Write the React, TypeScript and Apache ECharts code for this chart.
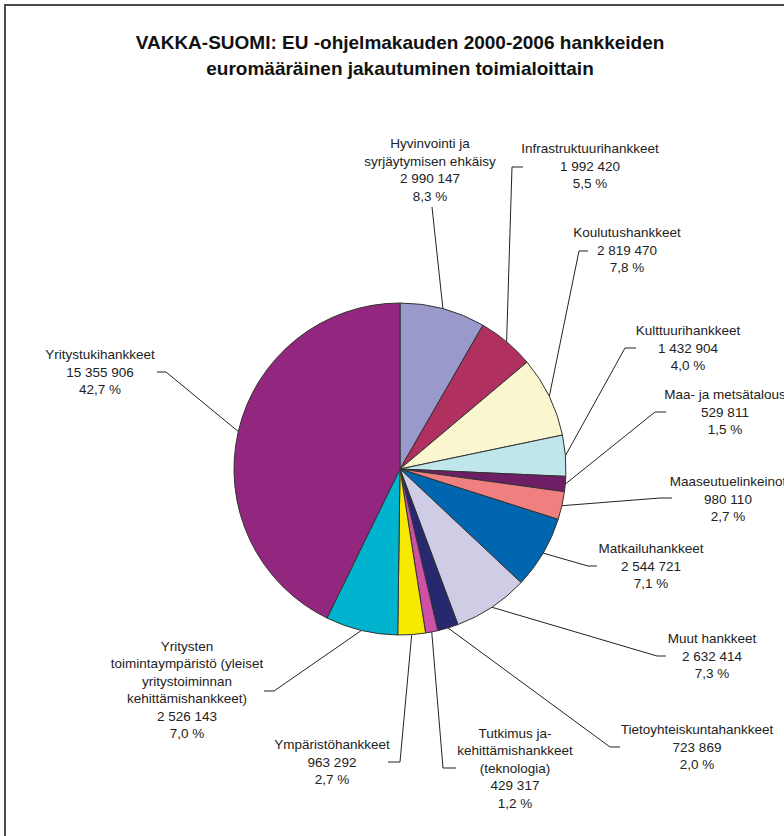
import React, { useEffect, useRef } from "react";
import * as echarts from "echarts";

// ---- data ----
const CATEGORIES: string[] = [
  "Hyvinvointi ja\nsyrjäytymisen ehkäisy",
  "Infrastruktuurihankkeet",
  "Koulutushankkeet",
  "Kulttuurihankkeet",
  "Maa- ja metsätalous",
  "Maaseutuelinkeinot",
  "Matkailuhankkeet",
  "Muut hankkeet",
  "Tietoyhteiskuntahankkeet",
  "Tutkimus ja-\nkehittämishankkeet\n(teknologia)",
  "Ympäristöhankkeet",
  "Yritysten\ntoimintaympäristö (yleiset\nyritystoiminnan\nkehittämishankkeet)",
  "Yritystukihankkeet",
];

const VALUES: number[] = [
  2990147, 1992420, 2819470, 1432904, 529811, 980110, 2544721, 2632414, 723869,
  429317, 963292, 2526143, 15355906,
];

const TITLE_LINES: string[] = [
  "VAKKA-SUOMI: EU -ohjelmakauden 2000-2006 hankkeiden",
  "euromääräinen jakautuminen toimialoittain",
];

// ---- styles / layout ----
const COLORS: string[] = [
  "#9999CC", "#B03060", "#FAF6D0", "#BFE6EB", "#6E1E64", "#F08080", "#0066B0",
  "#CFCDE5", "#28286E", "#D050A8", "#F5EA00", "#00B4D0", "#93267F",
];

const PIE_CENTER: [number, number] = [400, 469];
const PIE_RADIUS = 166;

// label block centre, leader bend point and leader end point
const LABEL_LAYOUT: { x: number; y: number; bend: [number, number]; end: [number, number] }[] = [
  { x: 430, y: 170, bend: [432, 207], end: [432, 207] },
  { x: 590, y: 166, bend: [512, 167], end: [523, 167] },
  { x: 627, y: 250, bend: [579, 251], end: [588, 251] },
  { x: 688, y: 348, bend: [625, 348], end: [636, 348] },
  { x: 725, y: 412, bend: [655, 412], end: [666, 412] },
  { x: 728, y: 499, bend: [660, 498], end: [672, 498] },
  { x: 651, y: 566, bend: [588, 566], end: [597, 566] },
  { x: 712, y: 656, bend: [657, 656], end: [666, 656] },
  { x: 697, y: 747, bend: [610, 747], end: [620, 747] },
  { x: 515, y: 768, bend: [443, 768], end: [456, 768] },
  { x: 332, y: 762, bend: [400, 762], end: [388, 762] },
  { x: 187, y: 690, bend: [274, 691], end: [264, 691] },
  { x: 100, y: 372, bend: [166, 372], end: [157, 372] },
];

const FONT = "'Liberation Sans', Arial, sans-serif";

export default function App() {
  const ref = useRef<HTMLDivElement>(null);

  useEffect(() => {
    if (!ref.current) return;
    const chart = echarts.init(ref.current, null, { renderer: "svg" });
    const total = VALUES.reduce((a, b) => a + b, 0);
    const fmtNum = (v: number) => String(v).replace(/\B(?=(\d{3})+(?!\d))/g, " ");
    const fmtPct = (v: number) => ((v / total) * 100).toFixed(1).replace(".", ",") + " %";

    // fallback edge points (mid-angle of each slice) derived from the data
    const edgePoints: [number, number][] = [];
    let acc = 0;
    VALUES.forEach((v) => {
      const mid = ((acc + v / 2) / total) * Math.PI * 2;
      acc += v;
      edgePoints.push([
        PIE_CENTER[0] + PIE_RADIUS * Math.sin(mid),
        PIE_CENTER[1] - PIE_RADIUS * Math.cos(mid),
      ]);
    });

    chart.setOption({
      animation: false,
      backgroundColor: "#ffffff",
      graphic: [
        {
          type: "rect",
          shape: { x: 5, y: 5, width: 1000, height: 1000 },
          style: { fill: "none", stroke: "#4a4a4a", lineWidth: 2 },
          silent: true,
        },
        ...TITLE_LINES.map((t, i) => ({
          type: "text",
          x: 400,
          y: 42 + i * 26,
          style: {
            text: t,
            fill: "#111111",
            font: `bold 19px ${FONT}`,
            textAlign: "center",
            textVerticalAlign: "middle",
          },
        })),
      ],
      series: [
        {
          type: "pie",
          center: PIE_CENTER,
          radius: PIE_RADIUS,
          startAngle: 90,
          clockwise: true,
          avoidLabelOverlap: false,
          minShowLabelAngle: 0,
          data: CATEGORIES.map((name, i) => ({
            name,
            value: VALUES[i],
            itemStyle: { color: COLORS[i] },
          })),
          itemStyle: { borderColor: "#333333", borderWidth: 1 },
          emphasis: { disabled: true },
          label: {
            show: true,
            position: "outside",
            formatter: (p: any) => {
              const lines = [
                ...String(p.name).split("\n"),
                fmtNum(p.value),
                fmtPct(p.value),
              ];
              return lines.map((l) => `{c|${l}}`).join("\n");
            },
            rich: {
              c: {
                align: "center",
                fontSize: 13.5,
                lineHeight: 17.5,
                color: "#222222",
                fontFamily: FONT,
              },
            },
          },
          labelLine: {
            show: true,
            length: 20,
            length2: 10,
            lineStyle: { color: "#222222", width: 1 },
          },
          labelLayout: (params: any) => {
            const i = params.dataIndex;
            const L = LABEL_LAYOUT[i];
            const start =
              params.labelLinePoints && params.labelLinePoints[0]
                ? params.labelLinePoints[0]
                : edgePoints[i];
            return {
              x: L.x,
              y: L.y,
              align: "center",
              verticalAlign: "middle",
              labelLinePoints: [start, L.bend, L.end],
            };
          },
        },
      ],
    });

    return () => chart.dispose();
  }, []);

  return (
    <div
      ref={ref}
      style={{ position: "fixed", left: 0, top: 0, width: 784, height: 836, background: "#fff" }}
    />
  );
}
